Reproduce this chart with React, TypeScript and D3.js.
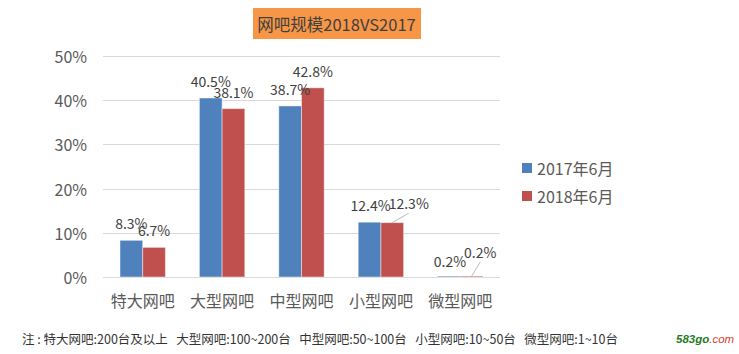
import React, { useEffect } from "react";
import * as d3 from "d3";

const categories = ["特大网吧", "大型网吧", "中型网吧", "小型网吧", "微型网吧"];
const seriesNames = ["2017年6月", "2018年6月"];
const values2017 = [8.3, 40.5, 38.7, 12.4, 0.2];
const values2018 = [6.7, 38.1, 42.8, 12.3, 0.2];
const yTicks = [0, 10, 20, 30, 40, 50];
const title = "网吧规模2018VS2017";
const footnote = "注 : 特大网吧:200台及以上   大型网吧:100~200台   中型网吧:50~100台   小型网吧:10~50台   微型网吧:1~10台";

// manual label offsets (dx, dy) for labels moved away from default position, per series
const labelOffsets2017 = [[0, 0], [0, 0], [0, 0], [1, 0], [1, 2]];
const labelOffsets2018 = [[0, 0], [0, 0], [0, 0], [16.5, -2.5], [8.5, -7]];

const W = 739;
const H = 354;
const colors = ["#4F81BD", "#C0504D"];
const FONT = "'Noto Sans CJK SC', 'Noto Sans', sans-serif";

export default function App() {
  useEffect(() => {
    document.body.style.margin = "0";
  }, []);

  const y = d3.scaleLinear().domain([0, 50]).range([277, 56]);
  const x0 = d3.scaleBand<string>().domain(categories).range([103, 500]).padding(0);
  const barW = 22.7;
  const x1 = d3.scaleBand<string>().domain(seriesNames).range([-barW, barW]).padding(0);
  const allValues = [values2017, values2018];
  const allOffsets = [labelOffsets2017, labelOffsets2018];
  const fmt = (v: number) => d3.format(".1f")(v) + "%";

  return (
    <svg width={W} height={H} style={{ position: "absolute", left: 0, top: 0, display: "block", background: "#fff" }} fontFamily={FONT}>
      <rect x={0} y={0} width={W} height={H} fill="#fff" />
      {/* title */}
      <rect x={253} y={8} width={168} height={31} fill="#F79646" />
      <text x={336.5} y={24} textAnchor="middle" dominantBaseline="central" fontSize={16.5} fill="#404040">
        {title}
      </text>
      {/* gridlines */}
      {yTicks.map((t) => (
        <g key={t}>
          <line x1={103} x2={500} y1={Math.round(y(t)) + 0.5} y2={Math.round(y(t)) + 0.5} stroke="#D9D9D9" strokeWidth={1} />
          <text x={87} y={y(t)} textAnchor="end" dominantBaseline="central" fontSize={16} fill="#595959">
            {t + "%"}
          </text>
        </g>
      ))}
      {/* bars */}
      {categories.map((c, ci) => {
        const cx = (x0(c) as number) + x0.bandwidth() / 2;
        return (
          <g key={c}>
            {seriesNames.map((s, si) => {
              const v = allValues[si][ci];
              const bx = cx + (x1(s) as number);
              return (
                <rect
                  key={s}
                  x={bx}
                  y={y(v)}
                  width={x1.bandwidth()}
                  height={y(0) - y(v)}
                  fill={colors[si]}
                  stroke="#ffffff"
                  strokeOpacity={0.45}
                  strokeWidth={1}
                />
              );
            })}
            <text x={cx} y={300} textAnchor="middle" dominantBaseline="central" fontSize={16} fill="#595959">
              {c}
            </text>
          </g>
        );
      })}
      {/* data labels */}
      {categories.map((c, ci) => {
        const cx = (x0(c) as number) + x0.bandwidth() / 2;
        return seriesNames.map((s, si) => {
          const v = allValues[si][ci];
          const bcx = cx + (x1(s) as number) + x1.bandwidth() / 2;
          const [dx, dy] = allOffsets[si][ci];
          const lx = bcx + dx;
          const ly = y(v) - 11 + dy;
          const moved = Math.abs(dx) > 5;
          return (
            <g key={c + s}>
              {moved && (
                <line x1={bcx} y1={y(v)} x2={lx} y2={ly + 4} stroke="#A6A6A6" strokeWidth={0.8} />
              )}
              <text x={lx} y={ly} textAnchor="middle" fontSize={14} fill="#404040">
                {fmt(v)}
              </text>
            </g>
          );
        });
      })}
      {/* legend */}
      {seriesNames.map((s, si) => (
        <g key={s} transform={`translate(522, ${163 + si * 28})`}>
          <rect x={0} y={0} width={10} height={10} fill={colors[si]} />
          <text x={15} y={5} dominantBaseline="central" fontSize={16} fill="#595959">
            {s}
          </text>
        </g>
      ))}
      {/* footnote */}
      <text x={22} y={338} dominantBaseline="central" fontSize={12.5} fill="#333333" xmlSpace="preserve" style={{ whiteSpace: "pre" }}>
        {footnote}
      </text>
      {/* watermark */}
      <text x={676} y={339} dominantBaseline="central" fontSize={11.5} fontStyle="italic" fontWeight="bold" fontFamily="'Liberation Sans', Arial, sans-serif">
        <tspan fill="#1E7B1E">583go</tspan>
        <tspan fill="#E0402A" fontWeight="normal">.com</tspan>
      </text>
    </svg>
  );
}
